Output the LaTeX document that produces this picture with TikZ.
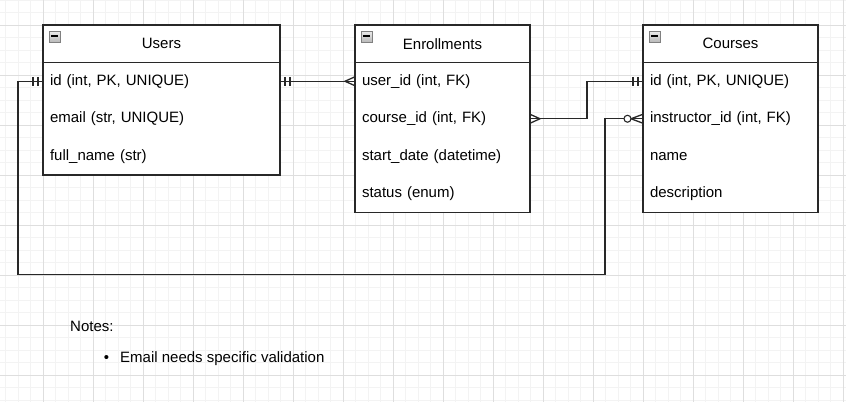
\documentclass[tikz,border=0pt]{standalone}
\usepackage{fontspec}
\setmainfont{Liberation Sans}
\usetikzlibrary{positioning}

\definecolor{gridminor}{RGB}{243,243,243}
\definecolor{gridmajor}{RGB}{222,222,222}
\definecolor{edgegray}{RGB}{40,40,40}

\tikzset{
  thead/.style={draw=edgegray,line width=1.2,fill=white,minimum width=#1,minimum height=37.5,inner sep=0,outer sep=0},
  field/.style={fill=white,text width=#1,inner xsep=7,inner ysep=0,minimum height=37.5,text height=11,text depth=3,align=left,outer sep=0},
  frame/.style={draw=edgegray,line width=1.5},
  conn/.style={draw=edgegray,line width=1.3},
  pics/onebar/.style={code={\draw[conn] (-5,-4.5)--(-5,4.5) (-10,-4.5)--(-10,4.5);}},
  pics/many/.style={code={\draw[conn] (0,-4.5)--(-10,0)--(0,4.5);}},
  pics/zeromany/.style={code={\draw[conn] (0,-4.5)--(-12,0)--(0,4.5);
    \draw[conn,line width=1.1,fill=white] (-15.5,0) circle (3.5);}},
  pics/minusicon/.style={code={\draw[gray,top color=gray!15,bottom color=gray!55] (6,6) rectangle (17,17);
    \draw[black,line width=1.2] (8,11)--(15,11);}}
}

\begin{document}
\begin{tikzpicture}[x=1pt,y=-1pt,font=\fontsize{15}{18}\selectfont]
  \useasboundingbox (0,0) rectangle (846,402);

  % grid
  \foreach \i in {0,...,67} \draw[gridminor] (5.5+12.5*\i,0) -- (5.5+12.5*\i,402);
  \foreach \i in {0,...,32} \draw[gridminor] (0,12.5*\i) -- (846,12.5*\i);
  \foreach \i in {0,...,16} \draw[gridmajor] (43+50*\i,0) -- (43+50*\i,402);
  \foreach \i in {0,...,7} \draw[gridmajor] (0,25+50*\i) -- (846,25+50*\i);

  % Users
  \node[thead=237] (uhead) at (161.5,43.75) {Users};
  \node[field=223,below=0pt of uhead] (uid) {id (int, PK, UNIQUE)};
  \node[field=223,below=0pt of uid] (uemail) {email (str, UNIQUE)};
  \node[field=223,below=0pt of uemail] (ufull) {full\_name (str)};
  \draw[frame] (uhead.north west) rectangle (ufull.south east);
  \pic at (uhead.north west) {minusicon};

  % Enrollments
  \node[thead=175] (ehead) at (442.5,43.75) {Enrollments};
  \node[field=161,below=0pt of ehead] (euser) {user\_id (int, FK)};
  \node[field=161,below=0pt of euser] (ecourse) {course\_id (int, FK)};
  \node[field=161,below=0pt of ecourse] (estart) {start\_date (datetime)};
  \node[field=161,below=0pt of estart] (estatus) {status (enum)};
  \draw[frame] (ehead.north west) rectangle (estatus.south east);
  \pic at (ehead.north west) {minusicon};

  % Courses
  \node[thead=175] (chead) at (730.5,43.75) {Courses};
  \node[field=161,below=0pt of chead] (cid) {id (int, PK, UNIQUE)};
  \node[field=161,below=0pt of cid] (cinstr) {instructor\_id (int, FK)};
  \node[field=161,below=0pt of cinstr] (cname) {name};
  \node[field=161,below=0pt of cname] (cdesc) {description};
  \draw[frame] (chead.north west) rectangle (cdesc.south east);
  \pic at (chead.north west) {minusicon};

  % relations
  \draw[conn] (uid.east) -- (euser.west);
  \pic[xscale=-1] at (uid.east) {onebar};
  \pic at (euser.west) {many};

  \draw[conn] (ecourse.east) -| ([xshift=-56pt]cid.west) -- (cid.west);
  \pic[xscale=-1] at (ecourse.east) {many};
  \pic at (cid.west) {onebar};

  \draw[conn] (uid.west) -- ++(-25,0) -- ++(0,193) -| ([xshift=-38pt]cinstr.west) -- (cinstr.west);
  \pic at (uid.west) {onebar};
  \pic at (cinstr.west) {zeromany};

  % notes
  \node[anchor=west,inner sep=0] (notes) at (70,326) {Notes:};
  \node[anchor=west,inner sep=0] (valid) at (120,359) {Email needs specific validation};
  \node[anchor=base east,inner sep=0] (bullet) at ([xshift=-10.7pt]valid.base west) {\textbullet};
\end{tikzpicture}
\end{document}
